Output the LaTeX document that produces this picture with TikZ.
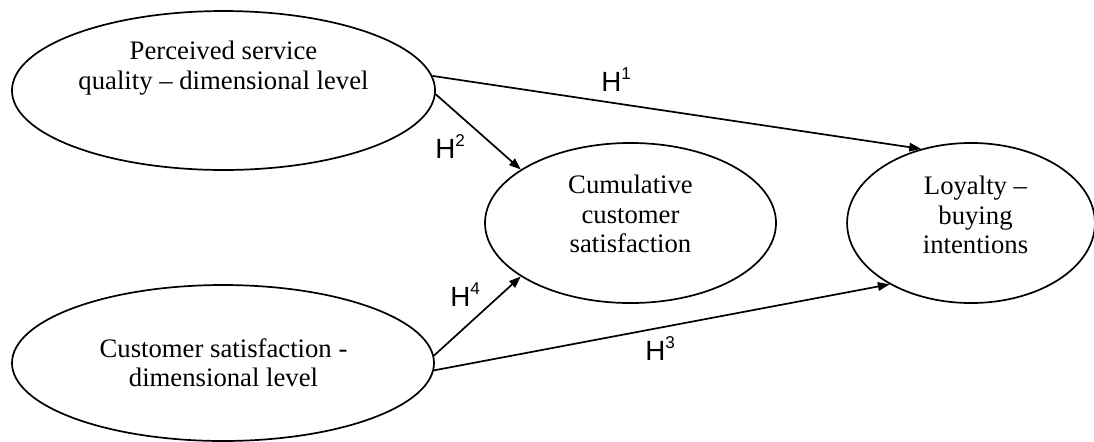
\documentclass[tikz,border=0pt]{standalone}
\usepackage{fontspec}
\setmainfont{Liberation Serif}
\newfontfamily\labelfont{Liberation Sans}
\usetikzlibrary{shapes}
\usetikzlibrary{arrows.meta}
\newcommand{\hlabel}[1]{H\raisebox{5.5pt}{\fontsize{8}{8}\selectfont #1}}

\begin{document}
\begin{tikzpicture}[x=0.468pt,y=-0.468pt]
	\useasboundingbox (0,0) rectangle (1094,441);
	\tikzstyle{every node}=[ellipse, draw, line width=0.8pt, inner sep=0pt]
	\draw (223.5,90.5) node (p1) [minimum width=198pt, minimum height=74.4pt]{};
	\draw (223,363) node (p2) [minimum width=197.5pt, minimum height=73pt]{};
	\draw (630.5,223) node (cum) [minimum width=136.2pt, minimum height=74.9pt]{};
	\draw (971,223) node (loy) [minimum width=116pt, minimum height=74.9pt]{};
	\tikzstyle{every node}=[align=center, font=\fontsize{12.5}{13.8}\selectfont]
	\draw (223.5,68) node (p1txt) {Perceived service\\quality – dimensional level};
	\draw (223.5,362.5) node (p2txt) {Customer satisfaction -\\dimensional level};
	\draw (630.5,214) node (cumtxt) {Cumulative\\customer\\satisfaction};
	\draw (975.5,215) node (loytxt) {Loyalty –\\buying\\intentions};
	\tikzstyle{every node}=[font=\labelfont\fontsize{13}{13}\selectfont, inner sep=0pt, anchor=base west]
	\draw [line width=0.8pt, -{Triangle[length=5.5pt,width=4pt]}] (p1.4) to (loy.124);
	\draw [line width=0.8pt, -{Triangle[length=5.5pt,width=4pt]}] (p1.-1) to (cum.154);
	\draw [line width=0.8pt, -{Triangle[length=5.5pt,width=4pt]}] (p2.2) to (cum.206);
	\draw [line width=0.8pt, -{Triangle[length=5.5pt,width=4pt]}] (p2.-2) to (loy.217);
	\draw (601,91.7) node (h1) {\hlabel{1}};
	\draw (435,158) node (h2) {\hlabel{2}};
	\draw (450,306.7) node (h4) {\hlabel{4}};
	\draw (645,360) node (h3) {\hlabel{3}};
\end{tikzpicture}
\end{document}
